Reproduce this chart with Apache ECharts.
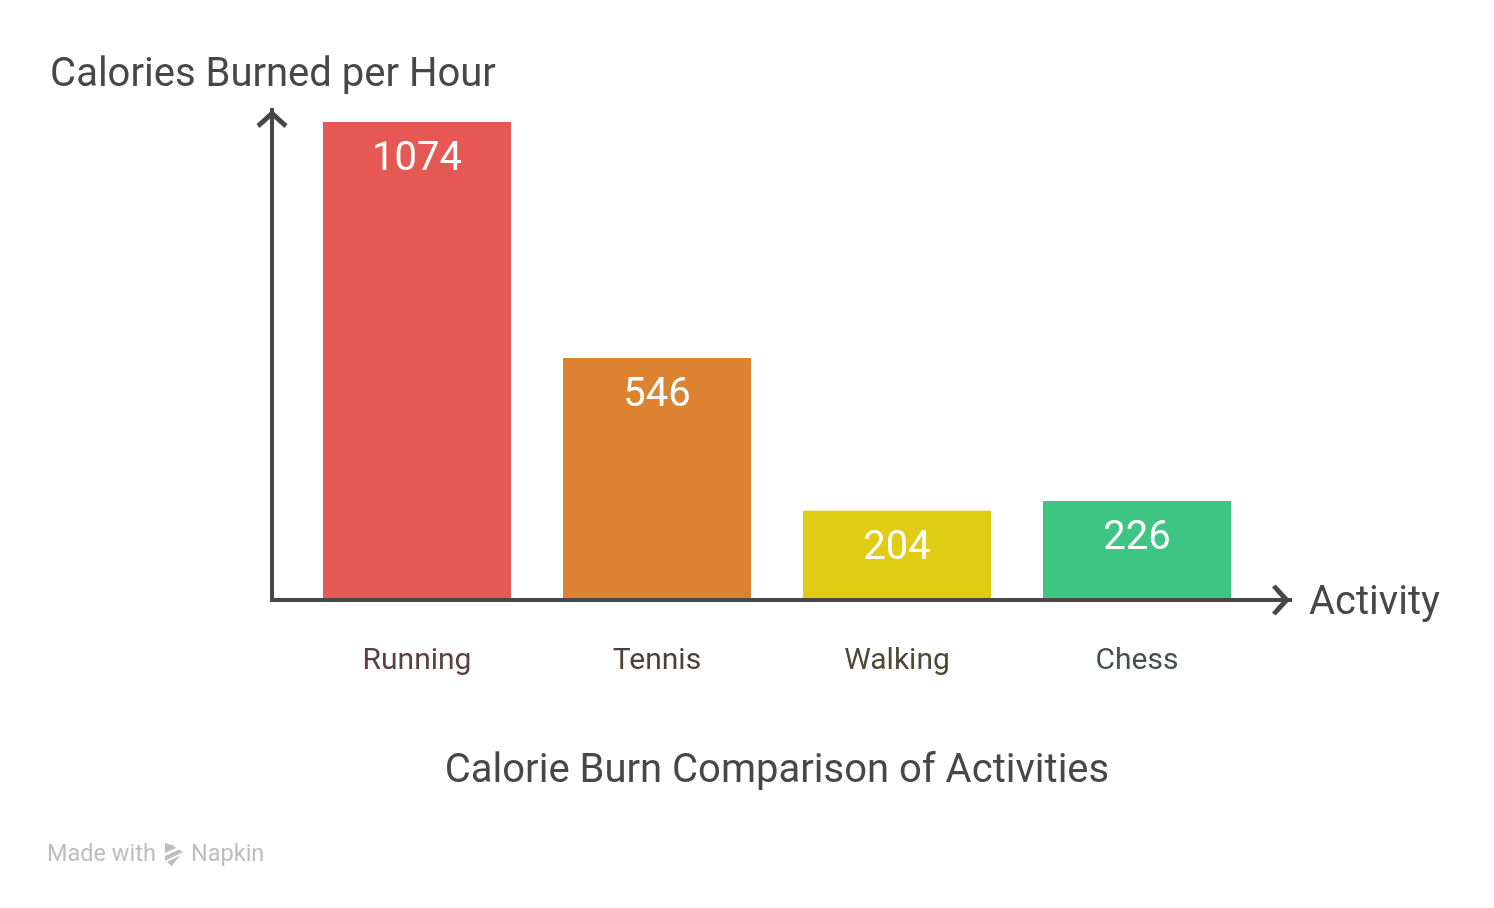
<!DOCTYPE html>
<html><head><meta charset="utf-8">
<style>html,body{margin:0;padding:0;background:#fff}#c{width:1494px;height:908px}</style>
<script src="https://cdn.jsdelivr.net/npm/echarts@6/dist/echarts.min.js"></script>
</head><body><div id="c"></div>
<script>
const categories = ['Running', 'Tennis', 'Walking', 'Chess'];
const calories = [1074, 546, 204, 226];
const barColors = ['#E55853', '#DD8230', '#E0CB15', '#3EC584'];
const labelColors = ['#5A4040', '#4A423A', '#4C4A35', '#45504A'];
const chartTitle = 'Calorie Burn Comparison of Activities';
const yAxisName = 'Calories Burned per Hour';
const xAxisName = 'Activity';
const FONT = 'Roboto';
const INK = '#474747';
const chevron = 'path://M50 0 L100 46 L90 58 L50 22 L10 58 L0 46 Z';

const chart = echarts.init(document.getElementById('c'), null, {renderer: 'canvas'});
chart.setOption({
  animation: false,
  backgroundColor: '#fff',
  title: [
    {text: chartTitle, left: 772, top: 767, textAlign: 'center', textVerticalAlign: 'middle',
      textStyle: {fontFamily: FONT, fontSize: 40, fontWeight: 400, color: INK}},
    {text: xAxisName, left: 1304, top: 599, textVerticalAlign: 'middle',
      textStyle: {fontFamily: FONT, fontSize: 40, fontWeight: 400, color: INK}}
  ],
  grid: [
    {left: 297, top: 122, width: 960, height: 478},
    {left: 272, top: 110, width: 1018, height: 490}
  ],
  xAxis: [
    {type: 'category', gridIndex: 0, data: categories,
      axisLine: {show: false}, axisTick: {show: false}, splitLine: {show: false},
      axisLabel: {margin: 45, fontFamily: FONT, fontSize: 30, lineHeight: 33,
        color: (v, i) => labelColors[i]}},
    {type: 'value', gridIndex: 1, min: 0, max: 1, z: 5,
      axisLabel: {show: false}, axisTick: {show: false}, splitLine: {show: false},
      axisLine: {show: true, onZero: false, symbol: ['none', chevron], symbolSize: [31, 18], symbolOffset: [0, -9],
        lineStyle: {color: INK, width: 4, cap: 'square'}}}
  ],
  yAxis: [
    {type: 'value', gridIndex: 0, min: 4.5, max: 1074, show: false},
    {type: 'value', gridIndex: 1, min: 0, max: 1, z: 5,
      axisLabel: {show: false}, axisTick: {show: false}, splitLine: {show: false},
      axisLine: {show: true, onZero: false, symbol: ['none', chevron], symbolSize: [31, 18], symbolOffset: [0, -9],
        lineStyle: {color: INK, width: 4, cap: 'square'}},
      name: yAxisName, nameLocation: 'end', nameGap: 34,
      nameTextStyle: {fontFamily: FONT, fontSize: 40, color: INK, align: 'center', verticalAlign: 'middle', padding: [0, 0, 0, 2]}}
  ],
  series: [{
    type: 'bar', xAxisIndex: 0, yAxisIndex: 0, barWidth: 188,
    data: calories.map((v, i) => ({value: v, itemStyle: {color: barColors[i]}})),
    label: {show: true, position: 'insideTop', distance: 18, fontFamily: FONT, fontSize: 40, color: '#fff'}
  }],
  graphic: [
    {type: 'text', left: 47, top: 843, style: {text: 'Made with', font: '23.5px Roboto', fill: '#BDBDBD'}},
    {type: 'text', left: 191, top: 843, style: {text: 'Napkin', font: '23.5px Roboto', fill: '#BDBDBD'}},
    {type: 'polygon', shape: {points: [[165,843],[172,845],[176,848],[165,853]]}, style: {fill: '#BDBDBD'}},
    {type: 'polygon', shape: {points: [[165,856],[179,849.5],[183,852],[165,861]]}, style: {fill: '#BDBDBD'}},
    {type: 'polygon', shape: {points: [[167,862],[180,855.5],[172,866]]}, style: {fill: '#BDBDBD'}}
  ]
});
</script></body></html>
